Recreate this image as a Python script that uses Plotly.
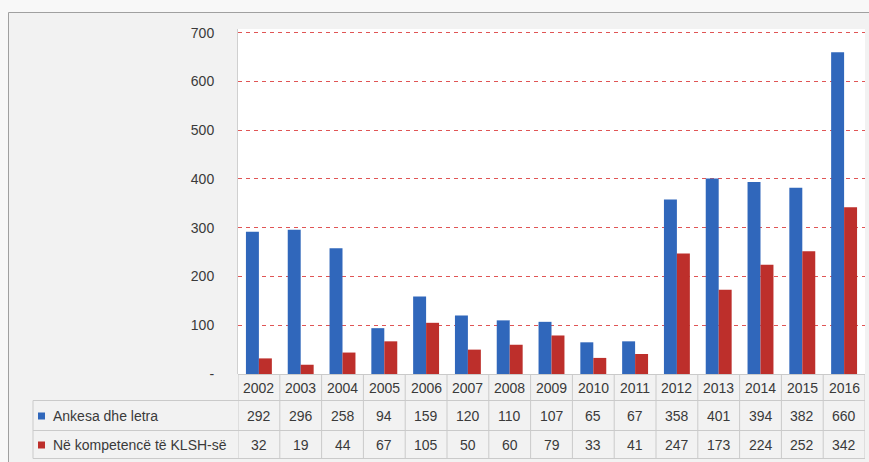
import plotly.graph_objects as go

years = ["2002", "2003", "2004", "2005", "2006", "2007", "2008", "2009",
         "2010", "2011", "2012", "2013", "2014", "2015", "2016"]
ankesa = [292, 296, 258, 94, 159, 120, 110, 107, 65, 67, 358, 401, 394, 382, 660]
kompetence = [32, 19, 44, 67, 105, 50, 60, 79, 33, 41, 247, 173, 224, 252, 342]
series_names = ["Ankesa dhe letra", "Në kompetencë të KLSH-së"]
series_colors = ["#3067bb", "#bd2f2b"]
ytick_vals = [0, 100, 200, 300, 400, 500, 600, 700]
ytick_text = ["-", "100", "200", "300", "400", "500", "600", "700"]

W, H = 869, 462
L, R, T, B = 238, 4, 29, 88
pw, ph = W - L - R, H - T - B


def px(x):
    return (x - L) / pw


def py(y):
    return (H - B - y) / ph


fig = go.Figure()
for name, vals, col in zip(series_names, [ankesa, kompetence], series_colors):
    fig.add_trace(go.Bar(x=years, y=vals, name=name, marker_color=col,
                         marker_line_width=0))

font = dict(family="Liberation Sans, Arial, sans-serif", size=14, color="#3a3a3a")
line_col = "#cacaca"
shapes = []
annotations = []

# outer frame
shapes.append(dict(type="rect", xref="paper", yref="paper", layer="below",
                   x0=px(8.5), x1=px(890), y0=py(490), y1=py(12.5),
                   fillcolor="#f2f2f2", line=dict(color="#a0a0a0", width=1)))
# white plot area
shapes.append(dict(type="rect", xref="paper", yref="paper", layer="below",
                   x0=0, x1=1, y0=0, y1=1,
                   fillcolor="#ffffff", line=dict(width=0)))

# table rows (pixel y positions of lines)
row_lines = [374.5, 400.5, 430.5, 458.5]
shapes.append(dict(type="line", xref="paper", yref="paper",
                   x0=0, x1=1, y0=py(row_lines[0]), y1=py(row_lines[0]),
                   line=dict(color=line_col, width=1)))
for yl in row_lines[1:]:
    shapes.append(dict(type="line", xref="paper", yref="paper",
                       x0=px(33), x1=1, y0=py(yl), y1=py(yl),
                       line=dict(color=line_col, width=1)))
for i in range(len(years) + 1):
    shapes.append(dict(type="line", xref="x", yref="paper",
                       x0=i - 0.5, x1=i - 0.5, y0=py(row_lines[0]), y1=py(row_lines[-1]),
                       line=dict(color=line_col, width=1)))
shapes.append(dict(type="line", xref="paper", yref="paper",
                   x0=px(33), x1=px(33), y0=py(row_lines[1]), y1=py(row_lines[-1]),
                   line=dict(color=line_col, width=1)))

# year header row
for i, yr in enumerate(years):
    annotations.append(dict(x=i, xref="x", y=py((row_lines[0] + row_lines[1]) / 2),
                            yref="paper", text=yr, showarrow=False, font=font,
                            xanchor="center", yanchor="middle"))
# series rows
for r, (name, vals, col) in enumerate(zip(series_names, [ankesa, kompetence], series_colors)):
    yc = (row_lines[r + 1] + row_lines[r + 2]) / 2
    shapes.append(dict(type="rect", xref="paper", yref="paper",
                       x0=px(38), x1=px(45), y0=py(yc + 4), y1=py(yc - 3),
                       fillcolor=col, line=dict(width=0)))
    annotations.append(dict(x=px(51), xref="paper", y=py(yc), yref="paper",
                            text=name, showarrow=False, font=font,
                            xanchor="left", yanchor="middle"))
    for i, v in enumerate(vals):
        annotations.append(dict(x=i, xref="x", y=py(yc), yref="paper",
                                text=str(v), showarrow=False, font=font,
                                xanchor="center", yanchor="middle"))

fig.update_layout(
    width=W, height=H,
    margin=dict(l=L, r=R, t=T, b=B),
    paper_bgcolor="#f8f8f8",
    plot_bgcolor="#ffffff",
    barmode="group", bargap=0.38, bargroupgap=0,
    showlegend=False,
    shapes=shapes, annotations=annotations,
    xaxis=dict(type="category", range=[-0.5, len(years) - 0.5], showticklabels=False,
               showgrid=False, zeroline=False, showline=False, ticks=""),
    yaxis=dict(range=[0, 707.6], tickvals=ytick_vals, ticktext=ytick_text,
               showgrid=True, gridcolor="#e05555", griddash="4px,4px",
               gridwidth=1, zeroline=False, showline=True, linecolor="#d0d0d0",
               ticks="", ticklabelstandoff=20, tickfont=font),
)

fig.write_html("out.html",
               config={"displayModeBar": False},
               post_script="document.body.style.margin='0';"
                           "document.body.style.overflow='hidden';")
